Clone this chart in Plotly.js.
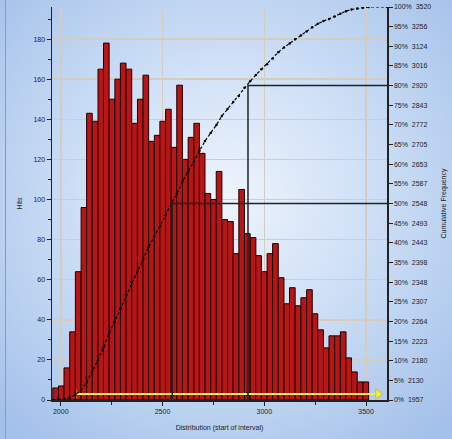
<!DOCTYPE html>
<html>
<head>
<meta charset="utf-8">
<script src="https://cdn.plot.ly/plotly-3.0.1.min.js"></script>
<style>
  html, body { margin:0; padding:0; }
  body { width:452px; height:439px; overflow:hidden; position:relative;
    background: radial-gradient(ellipse 70% 70% at 50% 45%, #eef4fd 0%, #cfe0f6 45%, #a4c1ea 100%); }
  #chart { width:452px; height:439px; position:absolute; left:0; top:0; }
  #frame { position:absolute; left:5px; top:0; width:1px; height:439px; background:#8e9bb0; }
</style>
</head>
<body>
<div id="frame"></div>
<div id="chart"></div>
<script>
// Bin starts ("start of interval") and hit counts
const binStart = [1961,1989,2016,2044,2072,2100,2127,2155,2183,2210,2238,2266,2293,2321,2349,2377,2404,2432,2460,2487,2515,2543,2570,2598,2626,2654,2681,2709,2737,2764,2792,2820,2847,2875,2903,2931,2958,2986,3014,3041,3069,3097,3124,3152,3180,3208,3235,3263,3291,3318,3346,3374,3401,3429,3457,3485];
const binWidth = 27.7;
const hits = [6,7,16,34,64,96,143,139,165,178,150,160,168,165,138,150,162,129,132,139,145,126,157,120,131,138,123,103,100,114,90,89,73,105,83,81,72,64,73,78,61,48,56,47,51,55,43,35,26,32,32,34,21,14,9,9];

// Right axis: percentile ticks and their values
const pctTicks = [0,5,10,15,20,25,30,35,40,45,50,55,60,65,70,75,80,85,90,95,100];
const pctValues = ['1957','2130','2180','2223','2264','2307','2348','2398','2443','2493','2548','2587','2653','2705','2772','2843','2920','3016','3124','3256','3520'];

// Marked percentiles (reference lines)
const markPct = [50, 80];
const markVal = [2548, 2920];

// Selection range bar (yellow)
const rangeX = [2079, 3559];
const rangeLevel = [3, 3];

const xRange = [1957, 3603];

// cumulative frequency from hits
const total = hits.reduce((a,b)=>a+b,0);
let run = 0;
const cumX = [binStart[0]], cumY = [0];
hits.forEach((h,i)=>{ run += h; cumX.push(binStart[i]+binWidth); cumY.push(run/total*100); });
cumX.push(xRange[1]); cumY.push(100);

const traces = [
  { type:'bar', x: binStart, y: hits, offset:0, width: binWidth,
    marker:{ color:'#b81616', line:{ color:'#1a0000', width:1 } },
    hoverinfo:'none', showlegend:false },
  { type:'scatter', mode:'lines+markers', x: cumX, y: cumY, yaxis:'y2',
    line:{ color:'#000', width:1.2, dash:'3px,2px' }, marker:{ color:'#000', size:2.5 },
    showlegend:false, hoverinfo:'none' }
];
markPct.forEach((p,i)=>{
  traces.push({ type:'scatter', mode:'lines', x:[markVal[i], markVal[i], xRange[1]], y:[0, p, p], yaxis:'y2',
    line:{ color:'#222', width:1.5 }, showlegend:false, hoverinfo:'none' });
  traces.push({ type:'scatter', mode:'markers', x:[markVal[i]], y:[rangeLevel[0]], yaxis:'y',
    marker:{ color:'#000', symbol:'square', size:4 }, showlegend:false, hoverinfo:'none' });
});
traces.push({ type:'scatter', mode:'lines+markers', x: rangeX, y: rangeLevel,
  line:{ color:'#f2ee55', width:2 },
  marker:{ color:'#ffff00', symbol:['line-ns','triangle-right'], size:[6,9], line:{color:'#c8b400', width:1} },
  showlegend:false, hoverinfo:'none' });

const tickFont = { family:'Liberation Sans, Arial, sans-serif', size:7, color:'#222' };
const layout = {
  width:452, height:439,
  margin:{ l:52, r:65, t:7, b:39 },
  paper_bgcolor:'rgba(0,0,0,0)', plot_bgcolor:'rgba(0,0,0,0)',
  bargap:0,
  font: tickFont,
  xaxis:{ range:xRange, tickvals:[2000,2500,3000,3500], ticks:'outside', ticklen:4, tickwidth:1, tickcolor:'#222',
    minor:{ tickvals:[2250,2750,3250], ticks:'outside', ticklen:3, tickcolor:'#222', showgrid:false },
    showline:true, linecolor:'#222', linewidth:1.5, showgrid:true, gridcolor:'#d6ccbe', gridwidth:1.5,
    zeroline:false, tickfont:tickFont,
    title:{ text:'Distribution (start of interval)', font:tickFont, standoff:11 } },
  yaxis:{ range:[0,196], tickvals:[0,20,40,60,80,100,120,140,160,180], ticks:'outside', ticklen:4, tickcolor:'#222',
    minor:{ tickvals:[10,30,50,70,90,110,130,150,170,190], ticks:'outside', ticklen:3, tickcolor:'#222', showgrid:false },
    showline:true, linecolor:'#222', linewidth:1.5, showgrid:true, gridcolor:'#d6ccbe', gridwidth:1.5,
    zeroline:false, tickfont:tickFont,
    title:{ text:'Hits', font:tickFont, standoff:10 } },
  yaxis2:{ overlaying:'y', side:'right', range:[0,100], tickvals:pctTicks,
    ticktext: pctTicks.map((p,i)=> p+'%  '+pctValues[i]),
    ticks:'outside', ticklen:4, tickcolor:'#222', showline:true, linecolor:'#222', linewidth:1.5,
    showgrid:false, zeroline:false, tickfont:tickFont,
    title:{ text:'Cumulative Frequency', font:tickFont, standoff:10 } }
};
Plotly.newPlot('chart', traces, layout, { staticPlot:true, displayModeBar:false });
</script>
</body>
</html>
